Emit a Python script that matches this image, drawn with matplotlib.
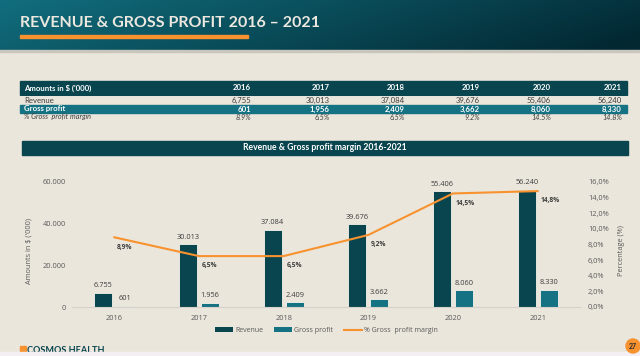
import matplotlib.pyplot as plt
import numpy as np
from matplotlib.lines import Line2D
from matplotlib.patches import Circle, Patch, Rectangle

years = ['2016', '2017', '2018', '2019', '2020', '2021']
revenue = [6755, 30013, 37084, 39676, 55406, 56240]
gross_profit = [601, 1956, 2409, 3662, 8060, 8330]
margin = [8.9, 6.5, 6.5, 9.2, 14.5, 14.8]

BG = '#ebe6dc'
DARK = '#08454f'
TEAL = '#147283'
ORANGE = '#f7922f'
GREY = '#595959'
TXT = '#3d3d3d'

plt.rcParams['font.family'] = ['Lato', 'DejaVu Sans']

fig = plt.figure(figsize=(6.4, 3.56), dpi=100)
fig.patch.set_facecolor(BG)

# canvas for the slide decoration, in pixel units
bg = fig.add_axes([0, 0, 1, 1])
bg.axis('off')

gx = np.linspace(0, 1, 256)
gy = np.linspace(0, 1, 32)
t = np.clip(0.85 * gx[None, :] + 0.2 * gy[:, None], 0, 1)
c0 = np.array([17, 110, 126]) / 255
c1 = np.array([2, 40, 50]) / 255
grad = c0 + (c1 - c0) * t[..., None]
bg.imshow(grad, extent=(0, 640, 50, 0), aspect='auto', zorder=1)
bg.set_xlim(0, 640)
bg.set_ylim(356, 0)
bg.add_patch(Rectangle((0, 50), 640, 1.5, color='#c9c6bd', zorder=1))
bg.text(20, 23, 'REVENUE & GROSS PROFIT 2016 – 2021', color='#ece8e0',
        fontsize=11.5, fontweight='bold', va='center', ha='left', zorder=2)
bg.add_patch(Rectangle((20, 35), 228, 2.5, color=ORANGE, zorder=2))

# table
col_right = [251, 330, 405, 480, 551, 622]
bg.add_patch(Rectangle((20, 81), 607, 14, color=DARK, zorder=1))
bg.text(24, 88, "Amounts in $ ('000)", color='white', fontsize=5.6,
        fontweight='bold', va='center', zorder=2)
bg.text(24, 100.5, 'Revenue', color=TXT, fontsize=5.6, va='center', zorder=2)
bg.add_patch(Rectangle((20, 105), 607, 8, color=TEAL, zorder=1))
bg.plot([20, 627], [96, 96], color='#f6f3ec', lw=0.5, zorder=2)
bg.text(24, 109, 'Gross profit', color='white', fontsize=5.6,
        fontweight='bold', va='center', zorder=2)
bg.text(24, 117, '% Gross  profit margin', color=TXT, fontsize=5.2,
        style='italic', va='center', zorder=2)
for xr, yr, rv, gp, mg in zip(col_right, years, revenue, gross_profit, margin):
    bg.text(xr, 88, yr, color='white', fontsize=5.6, fontweight='bold',
            ha='right', va='center', zorder=2)
    bg.text(xr, 100.5, f'{rv:,}', color=TXT, fontsize=5.6, ha='right',
            va='center', zorder=2)
    bg.text(xr, 109, f'{gp:,}', color='white', fontsize=5.6,
            fontweight='bold', ha='right', va='center', zorder=2)
    bg.text(xr, 117, f'{mg:.1f}%', color=TXT, fontsize=5.2, style='italic',
            ha='right', va='center', zorder=2)

# chart title bar
bg.add_patch(Rectangle((22, 141), 606, 14, color=DARK, zorder=1))
bg.text(325, 148, 'Revenue & Gross profit margin 2016-2021', color='white',
        fontsize=6.2, fontweight='bold', ha='center', va='center', zorder=2)

# footer
bg.add_patch(Rectangle((20, 346), 6, 8, color=ORANGE, zorder=1))
bg.text(27, 350.5, 'COSMOS HEALTH', color=DARK, fontsize=6.6,
        fontweight='bold', va='center', zorder=1)
bg.add_patch(Rectangle((0, 352), 640, 4, color='#f3eff3', zorder=2))
bg.add_patch(Circle((633, 346), 7, color=ORANGE, zorder=3))
bg.text(633, 346.5, '27', color='#2b2b2b', fontsize=5, fontweight='bold',
        ha='center', va='center', zorder=4)

# chart
ax = fig.add_axes([72 / 640, 1 - 307 / 356, 508 / 640, 125.3 / 356])
ax.set_facecolor('none')
x = np.arange(len(years))
ax.bar(x - 0.13, revenue, 0.21, color=DARK, edgecolor='#f6f3ec',
       linewidth=0.6, zorder=2)
ax.bar(x + 0.13, gross_profit, 0.21, color=TEAL, edgecolor='#f6f3ec',
       linewidth=0.6, zorder=2)
for xi, rv, gp in zip(x, revenue, gross_profit):
    ax.annotate(f'{rv:,}'.replace(',', '.'), (xi - 0.13, rv), xytext=(0, 5),
                textcoords='offset points', ha='center', va='center',
                fontsize=5.3, color=TXT, family='Open Sans')
    ax.annotate(f'{gp:,}'.replace(',', '.'), (xi + 0.13, gp), xytext=(0, 5),
                textcoords='offset points', ha='center', va='center',
                fontsize=5.3, color=TXT, family='Open Sans')
ax.set_xlim(-0.5, len(years) - 0.5)
ax.set_ylim(0, 60000)
ax.set_xticks(x, years)
yt = [0, 20000, 40000, 60000]
ax.set_yticks(yt, [f'{v:,}'.replace(',', '.') for v in yt])
ax.tick_params(length=0, labelsize=5.3, labelcolor=GREY)
ax.tick_params(axis='y', pad=4.3)
ax.tick_params(axis='x', pad=5.5)
for lab in ax.get_xticklabels() + ax.get_yticklabels():
    lab.set_family('Open Sans')
for s in ['top', 'left', 'right']:
    ax.spines[s].set_visible(False)
ax.spines['bottom'].set_color('#d6d2ca')
ax.spines['bottom'].set_linewidth(0.8)
ax.set_ylabel("Amounts in $ ('000)", fontsize=5.3, color=GREY,
              family='Open Sans')
ax.yaxis.set_label_coords(-0.077, 0.45)

ax2 = ax.twinx()
ax2.plot(x, margin, color=ORANGE, lw=1.5, zorder=3)
for xi, mg in zip(x, margin):
    ax2.annotate(f'{mg:.1f}%'.replace('.', ','), (xi, mg), xytext=(2, -7),
                 textcoords='offset points', ha='left', va='center',
                 fontsize=4.8, fontweight='bold', color=TXT,
                 family='Open Sans')
ax2.set_ylim(0, 16)
pt = list(range(0, 17, 2))
ax2.set_yticks(pt, [f'{v:.1f}%'.replace('.', ',') for v in pt])
ax2.tick_params(length=0, labelsize=5.3, labelcolor=GREY, pad=5.8)
for lab in ax2.get_yticklabels():
    lab.set_family('Open Sans')
for s in ax2.spines.values():
    s.set_visible(False)
ax2.set_ylabel('Percentage (%)', fontsize=5.3, color=GREY, family='Open Sans')
ax2.yaxis.set_label_coords(1.075, 0.45)

handles = [Patch(facecolor=DARK), Patch(facecolor=TEAL),
           Line2D([], [], color=ORANGE, lw=1.5)]
labels = ['Revenue', 'Gross profit', '% Gross  profit margin']
leg = fig.legend(handles, labels, loc='center', ncol=3, frameon=False,
                 bbox_to_anchor=(326.5 / 640, 1 - 330.5 / 356),
                 prop={'family': 'Open Sans', 'size': 5},
                 handlelength=2.6, handleheight=0.7, handletextpad=0.3,
                 columnspacing=1.6, labelcolor=GREY)

fig.savefig('out.png', dpi=100, facecolor=BG)
